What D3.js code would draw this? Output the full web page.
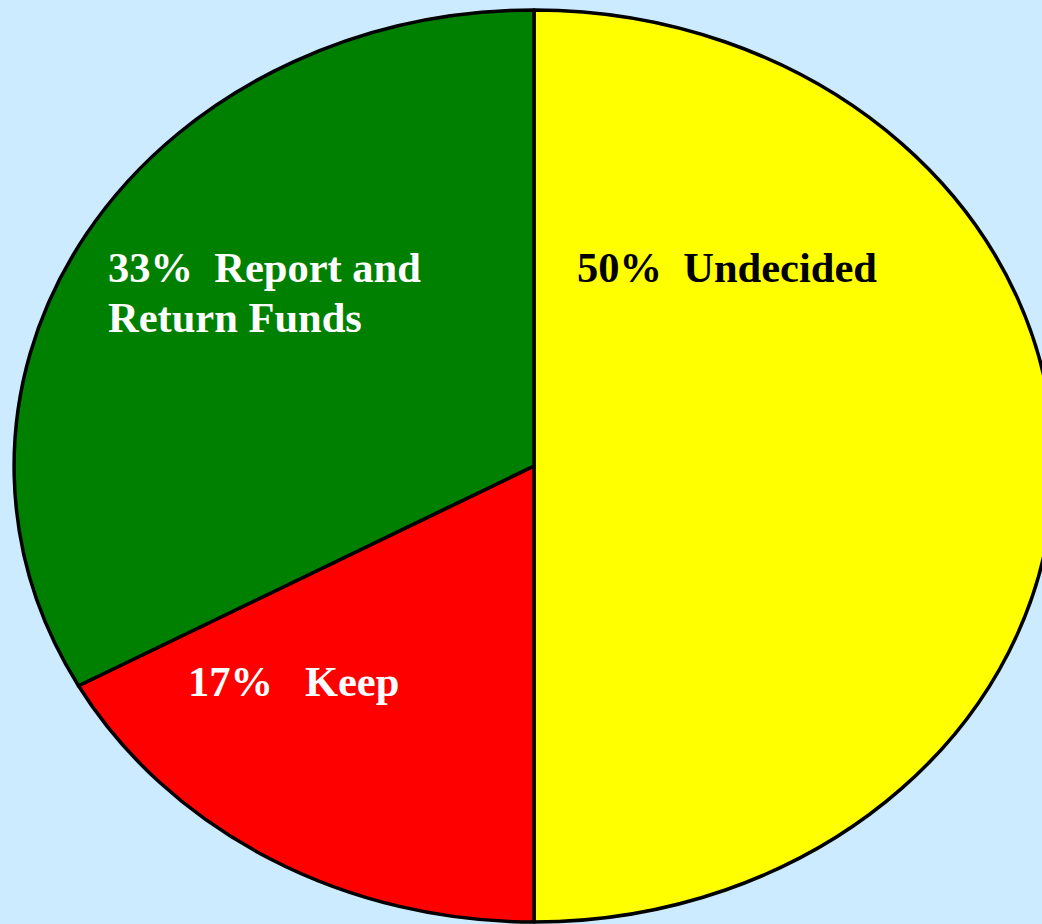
<!DOCTYPE html>
<html>
<head>
<meta charset="utf-8">
<script src="https://cdn.jsdelivr.net/npm/d3@7"></script>
<style>
html,body{margin:0;padding:0;background:#CCEBFF;}
svg{display:block;}
</style>
</head>
<body>
<svg id="chart" width="1042" height="924"></svg>
<script>
const categories = ["Undecided", "Keep", "Report and Return Funds"];
const values = [50, 17, 33];
const labelLines = [["50%  Undecided"], ["17%   Keep"], ["33%  Report and", "Return Funds"]];
const colors = ["#FFFF00", "#FF0000", "#008000"];
const textColors = ["#000000", "#FFFFFF", "#FFFFFF"];

const W = 1042, H = 924;
const cx = 534, cy = 466, rx = 520, ry = 456;
// label anchor (left x, first baseline y) in layout space
const labelAnchors = [[577, 282], [188, 696], [108, 282]];

const svg = d3.select("#chart");
svg.append("rect").attr("width", W).attr("height", H).attr("fill", "#CCEBFF");

const pie = d3.pie().sort(null).value(d => d.v);
const arc = d3.arc().innerRadius(0).outerRadius(1);
const data = categories.map((c, i) => ({c, v: values[i], i}));

const g = svg.append("g").attr("transform", `translate(${cx},${cy}) scale(${rx},${ry})`);
g.selectAll("path").data(pie(data)).join("path")
  .attr("d", arc)
  .attr("fill", d => colors[d.data.i])
  .attr("stroke", "#000")
  .attr("stroke-width", 3.5)
  .attr("stroke-linejoin", "round")
  .attr("vector-effect", "non-scaling-stroke");

const lg = svg.append("g");
data.forEach((d, i) => {
  const t = lg.append("text")
    .attr("x", labelAnchors[i][0])
    .attr("y", labelAnchors[i][1])
    .attr("fill", textColors[i])
    .attr("font-family", "'Liberation Serif', 'Times New Roman', serif")
    .attr("font-weight", "bold")
    .attr("font-size", 42.5)
    .style("white-space", "pre")
    .attr("xml:space", "preserve");
  labelLines[i].forEach((line, j) => {
    t.append("tspan").attr("x", labelAnchors[i][0]).attr("dy", j === 0 ? 0 : 50).text(line);
  });
});
</script>
</body>
</html>
